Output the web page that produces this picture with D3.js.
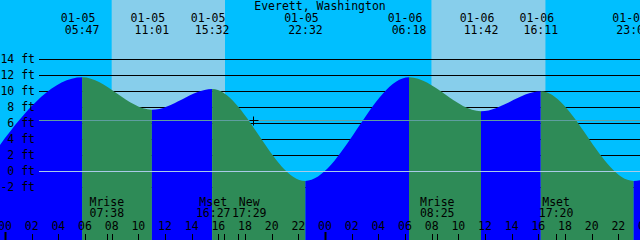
<!DOCTYPE html>
<html>
<head>
<meta charset="utf-8">
<script src="https://cdn.jsdelivr.net/npm/d3@7"></script>
<style>
	body { margin: 0; background: #fff; }
	svg { display: block; }
	text { font-family: 'DejaVu Sans Mono', monospace; font-size: 11.5px; fill: #000; }
</style>
</head>
<body>
<div id="draw"></div>
<script>
// tide extremes (first and last are just outside the window)
var tideTimes = ['01-04 21:42', '01-05 05:47', '01-05 11:01', '01-05 15:32', '01-05 22:32',
	'01-06 06:18', '01-06 11:42', '01-06 16:11', '01-06 23:09', '01-07 06:50'];
var tideHeights = [-1.3, 11.75, 7.7, 10.3, -1.2, 11.75, 7.5, 10.0, -1.2, 11.6];

// sun
var sunriseTimes = ['01-05 08:00', '01-06 07:59'];
var sunsetTimes = ['01-05 16:30', '01-06 16:32'];

// moon
var moonTimes = ['01-05 07:38', '01-05 16:27', '01-05 17:29', '01-06 08:25', '01-06 17:20'];
var moonNames = ['Mrise', 'Mset', 'New', 'Mrise', 'Mset'];

// axes
var feetTicks = [-2, 0, 2, 4, 6, 8, 10, 12, 14];
var hourTicks = d3.range(0, 50, 2);
var meanLevel = 6.375;
var markTime = '01-05 18:36';
var title = 'Everett, Washington';

var width = 640, height = 240;
var parse = d3.timeParse('%Y-%m-%d %H:%M');
var t = function (s) { return parse('2000-' + s); };

var x = d3.scaleTime()
	.domain([t('01-04 23:37'), d3.timeMinute.offset(t('01-06 23:37'), 0)])
	.range([0, width]);
// shift so midnight falls at x=5
x.domain([new Date(+t('01-05 00:00') - 5 / 640 * 48 * 3600e3), new Date(+t('01-05 00:00') + 635 / 640 * 48 * 3600e3)]);

var y = d3.scaleLinear().domain([0, 14]).range([171.3, 59.3]);

var svg = d3.select('#draw').append('svg')
	.attr('width', width)
	.attr('height', height);

// sky: night then day bands
svg.append('rect').attr('width', width).attr('height', height).attr('fill', '#00bfff');
svg.selectAll('.day')
	.data(sunriseTimes)
	.enter()
	.append('rect')
	.attr('x', function (d) { return x(t(d)); })
	.attr('y', 0)
	.attr('width', function (d, i) { return x(t(sunsetTimes[i])) - x(t(d)); })
	.attr('height', height)
	.attr('fill', '#87ceeb');

// level lines
svg.selectAll('.grid')
	.data(feetTicks)
	.enter()
	.append('line')
	.attr('x1', 39).attr('x2', width)
	.attr('y1', function (d) { return Math.round(y(d)) + 0.5; })
	.attr('y2', function (d) { return Math.round(y(d)) + 0.5; })
	.attr('stroke', '#000');

// water
var tides = tideTimes.map(function (d, i) { return { time: t(d), h: tideHeights[i] }; });

var area = d3.area()
	.x(function (d) { return x(d.time); })
	.y0(height)
	.y1(function (d) { return y(d.h); })
	.curve(d3.curveMonotoneX);

svg.append('clipPath').attr('id', 'water')
	.append('path')
	.attr('d', area(tides));

svg.append('g')
	.attr('clip-path', 'url(#water)')
	.selectAll('rect')
	.data(tides.slice(0, -1))
	.enter()
	.append('rect')
	.attr('x', function (d) { return x(d.time); })
	.attr('y', 0)
	.attr('width', function (d, i) { return x(tides[i + 1].time) - x(d.time); })
	.attr('height', height)
	.attr('fill', function (d, i) { return tides[i + 1].h > d.h ? '#0000ff' : '#2e8b57'; });

// mean level and datum
svg.append('line')
	.attr('x1', 39).attr('x2', width)
	.attr('y1', Math.round(y(meanLevel)) + 0.5).attr('y2', Math.round(y(meanLevel)) + 0.5)
	.attr('stroke', '#5f9ea0');
svg.append('line')
	.attr('x1', 39).attr('x2', width)
	.attr('y1', Math.round(y(0)) + 0.5).attr('y2', Math.round(y(0)) + 0.5)
	.attr('stroke', '#a9cbe8');

// y labels
svg.selectAll('.ylab')
	.data(feetTicks)
	.enter()
	.append('text')
	.attr('x', 35)
	.attr('y', function (d) { return y(d) + 4; })
	.attr('text-anchor', 'end')
	.text(function (d) { return d + ' ft'; });

// title
svg.append('text')
	.attr('x', width / 2)
	.attr('y', 10)
	.attr('text-anchor', 'middle')
	.text(title);

// tide event labels at the top
var fmtDate = d3.timeFormat('%m-%d'), fmtTime = d3.timeFormat('%H:%M');
var shown = tides.filter(function (d) { return x(d.time) >= 0 && x(d.time) <= width; });

svg.selectAll('.tdate')
	.data(shown)
	.enter()
	.append('text')
	.attr('x', function (d) { return x(d.time) - 4; })
	.attr('y', 22)
	.attr('text-anchor', 'middle')
	.text(function (d) { return fmtDate(d.time); });

svg.selectAll('.ttime')
	.data(shown)
	.enter()
	.append('text')
	.attr('x', function (d) { return x(d.time); })
	.attr('y', 34)
	.attr('text-anchor', 'middle')
	.text(function (d) { return fmtTime(d.time); });

// moon labels, pushed apart when they collide
var moon = moonTimes.map(function (d, i) { return { time: t(d), name: moonNames[i], lx: x(t(d)) }; });
for (var i = 1; i < moon.length; i++) {
	var gap = 36;
	if (moon[i].lx - moon[i - 1].lx < gap) {
		var mid = (moon[i].lx + moon[i - 1].lx) / 2;
		moon[i - 1].lx = mid - gap / 2;
		moon[i].lx = mid + gap / 2;
	}
}

svg.selectAll('.mname')
	.data(moon)
	.enter()
	.append('text')
	.attr('x', function (d) { return d.lx; })
	.attr('y', 206)
	.attr('text-anchor', 'middle')
	.text(function (d) { return d.name; });

svg.selectAll('.mtime')
	.data(moon)
	.enter()
	.append('text')
	.attr('x', function (d) { return d.lx; })
	.attr('y', 217)
	.attr('text-anchor', 'middle')
	.text(function (d) { return fmtTime(d.time); });

// hour labels and ticks
var day0 = t('01-05 00:00');
var hours = hourTicks.map(function (h) { return d3.timeHour.offset(day0, h); });

svg.selectAll('.hlab')
	.data(hours)
	.enter()
	.append('text')
	.attr('x', function (d) { return x(d); })
	.attr('y', 230)
	.attr('text-anchor', 'middle')
	.text(function (d) { return fmtTime(d).slice(0, 2); });

svg.selectAll('.htick')
	.data(hours)
	.enter()
	.append('line')
	.attr('x1', function (d) { return Math.round(x(d)) + 0.5; })
	.attr('x2', function (d) { return Math.round(x(d)) + 0.5; })
	.attr('y1', function (d) { return d.getHours() === 0 ? 232 : 234; })
	.attr('y2', height)
	.attr('stroke', '#000')
	.attr('stroke-width', function (d) { return d.getHours() === 0 ? 2 : 1; });

svg.selectAll('.mtick')
	.data(moon)
	.enter()
	.append('line')
	.attr('x1', function (d) { return Math.round(x(d.time)) + 0.5; })
	.attr('x2', function (d) { return Math.round(x(d.time)) + 0.5; })
	.attr('y1', 234)
	.attr('y2', height)
	.attr('stroke', '#000');

// current time marker
var mx = Math.round(x(t(markTime))) + 0.5, my = Math.round(y(meanLevel)) + 0.5;
svg.append('path')
	.attr('d', 'M' + (mx - 4) + ',' + my + 'H' + (mx + 5) + 'M' + mx + ',' + (my - 4) + 'V' + (my + 5))
	.attr('stroke', '#000');
</script>
</body>
</html>
